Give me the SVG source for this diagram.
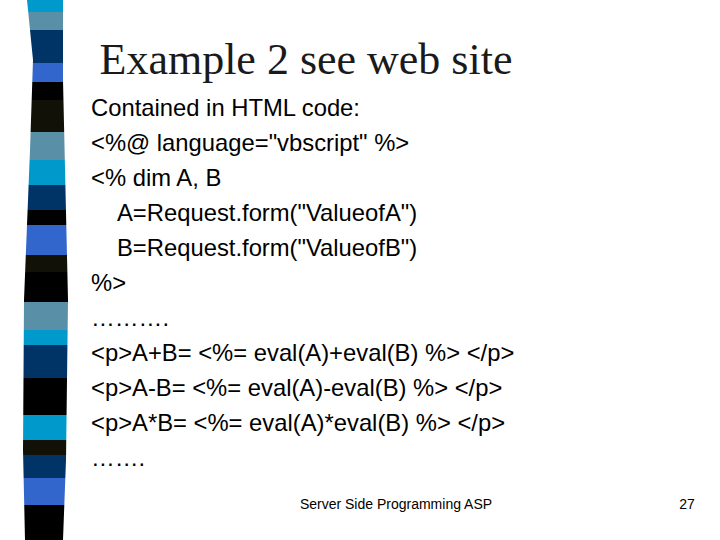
<svg xmlns="http://www.w3.org/2000/svg" width="720" height="540" viewBox="0 0 720 540">
<defs><clipPath id="c"><path d="M27 0 L63 0 L63 80 L68 300 L66 460 L63 540 L25 540 L23 450 L24 300 L30 150 L33 60 Z"/></clipPath>
<style>.b{font-family:"Liberation Sans",Arial,sans-serif;font-size:23.8px;fill:#000}.f{font-family:"Liberation Sans",Arial,sans-serif;font-size:14px}</style></defs>
<rect width="720" height="540" fill="#fff"/>
<g id="stripe" clip-path="url(#c)">
<rect y="0" width="80" height="12" fill="#0099cc"/><rect y="12" width="80" height="18" fill="#5a8fa8"/><rect y="30" width="80" height="33" fill="#003366"/><rect y="63" width="80" height="19" fill="#3366cc"/><rect y="82" width="80" height="18" fill="#000"/><rect y="100" width="80" height="32" fill="#111108"/><rect y="132" width="80" height="28" fill="#5a8fa8"/><rect y="160" width="80" height="25" fill="#0099cc"/><rect y="185" width="80" height="25" fill="#003366"/><rect y="210" width="80" height="15" fill="#000"/><rect y="225" width="80" height="30" fill="#3366cc"/><rect y="255" width="80" height="17" fill="#111108"/><rect y="272" width="80" height="30" fill="#000"/><rect y="302" width="80" height="28" fill="#5a8fa8"/><rect y="330" width="80" height="15" fill="#0099cc"/><rect y="345" width="80" height="33" fill="#003366"/><rect y="378" width="80" height="37" fill="#000"/><rect y="415" width="80" height="25" fill="#0099cc"/><rect y="440" width="80" height="15" fill="#111108"/><rect y="455" width="80" height="23" fill="#003366"/><rect y="478" width="80" height="27" fill="#3366cc"/><rect y="505" width="80" height="35" fill="#000"/>
</g>
<text id="title" x="306" y="74" text-anchor="middle" font-family="Liberation Serif,serif" font-size="44" fill="#1a1a1a">Example 2 see web site</text>
<g id="body" class="b">
<text class="b" x="91" y="116">Contained in HTML code:</text>
<text class="b" x="91" y="151">&lt;%@ language="vbscript" %&gt;</text>
<text class="b" x="91" y="186">&lt;% dim A, B</text>
<text class="b" x="117" y="221">A=Request.form("ValueofA")</text>
<text class="b" x="117" y="256">B=Request.form("ValueofB")</text>
<text class="b" x="91" y="291">%&gt;</text>
<text class="b" x="91" y="326">………. </text>
<text class="b" x="91" y="361">&lt;p&gt;A+B= &lt;%= eval(A)+eval(B) %&gt; &lt;/p&gt;</text>
<text class="b" x="91" y="396">&lt;p&gt;A-B= &lt;%= eval(A)-eval(B) %&gt; &lt;/p&gt;</text>
<text class="b" x="91" y="431">&lt;p&gt;A*B= &lt;%= eval(A)*eval(B) %&gt; &lt;/p&gt;</text>
<text class="b" x="91" y="466">……. </text>
</g>
<text class="f" x="396" y="509" text-anchor="middle">Server Side Programming ASP</text>
<text class="f" x="687" y="509" text-anchor="middle">27</text>
</svg>
